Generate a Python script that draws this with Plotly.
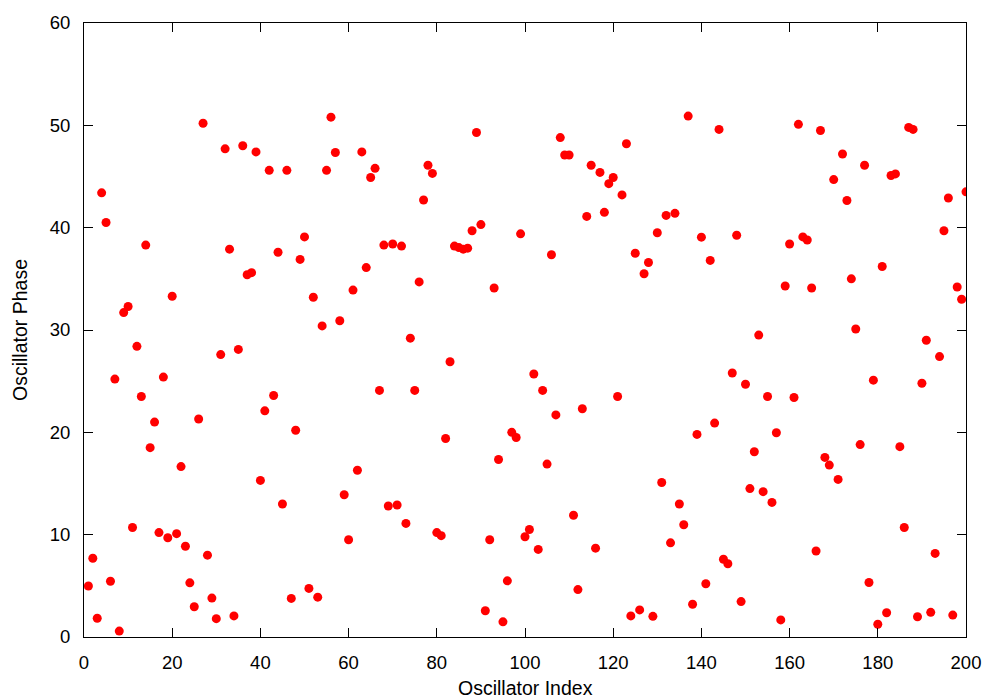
import plotly.graph_objects as go

# oscillator index 1..200 and the phase
index = list(range(1, 201))

phase = [
    4.98, 7.7, 1.83, 43.4, 40.5, 5.45, 25.2, 0.58, 31.7, 32.3,
    10.7, 28.4, 23.5, 38.3, 18.5, 21.0, 10.2, 25.4, 9.7, 33.3,
    10.1, 16.65, 8.87, 5.29, 2.96, 21.3, 50.2, 8.0, 3.8, 1.79,
    27.6, 47.7, 37.9, 2.06, 28.1, 48.0, 35.4, 35.6, 47.4, 15.3,
    22.1, 45.6, 23.6, 37.6, 13.0, 45.6, 3.77, 20.2, 36.9, 39.1,
    4.75, 33.2, 3.89, 30.4, 45.6, 50.8, 47.35, 30.9, 13.9, 9.5,
    33.9, 16.3, 47.4, 36.1, 44.9, 45.8, 24.1, 38.3, 12.8, 38.4,
    12.9, 38.2, 11.1, 29.2, 24.1, 34.7, 42.7, 46.1, 45.3, 10.2,
    9.9, 19.4, 26.9, 38.2, 38.05, 37.9, 38.0, 39.7, 49.3, 40.3,
    2.57, 9.5, 34.1, 17.35, 1.48, 5.49, 20.0, 19.5, 39.4, 9.8,
    10.5, 25.7, 8.56, 24.1, 16.9, 37.35, 21.7, 48.8, 47.1, 47.1,
    11.9, 4.63, 22.3, 41.1, 46.1, 8.68, 45.4, 41.5, 44.3, 44.9,
    23.5, 43.2, 48.2, 2.06, 37.5, 2.65, 35.5, 36.6, 2.02, 39.5,
    15.1, 41.2, 9.2, 41.4, 13.0, 10.97, 50.9, 3.2, 19.8, 39.07,
    5.2, 36.8, 20.9, 49.6, 7.6, 7.16, 25.8, 39.26, 3.46, 24.7,
    14.5, 18.1, 29.5, 14.2, 23.5, 13.15, 19.96, 1.67, 34.3, 38.4,
    23.4, 50.1, 39.1, 38.8, 34.1, 8.4, 49.5, 17.55, 16.8, 44.7,
    15.4, 47.2, 42.65, 35.0, 30.1, 18.8, 46.1, 5.33, 25.1, 1.25,
    36.2, 2.37, 45.1, 45.25, 18.6, 10.7, 49.8, 49.6, 1.98, 24.8,
    29.0, 2.41, 8.17, 27.4, 39.7, 42.9, 2.14, 34.2, 33.0, 43.5,
]

x_ticks = list(range(0, 201, 20))
y_ticks = list(range(0, 61, 10))

fig = go.Figure()
fig.add_trace(go.Scatter(
    x=index, y=phase, mode="markers",
    marker=dict(color="#ff0000", size=9, line=dict(width=0)),
    showlegend=False,
))

axis_style = dict(
    showline=True, linecolor="black", linewidth=1, mirror="ticks",
    ticks="inside", ticklen=9, tickwidth=1, tickcolor="black",
    showgrid=False, zeroline=False, automargin=False,
    tickfont=dict(size=18.5, color="black"),
    ticklabelstandoff=9,
)

fig.update_xaxes(range=[0, 200], tickvals=x_ticks, **axis_style)
fig.update_yaxes(range=[0, 60], tickvals=y_ticks, **axis_style)

# axis titles as annotations so they sit where gnuplot put them
title_font = dict(size=19.5, color="black")
fig.add_annotation(
    text="Oscillator Index",
    xref="paper", yref="paper", x=0.5, y=-0.083,
    xanchor="center", yanchor="middle", showarrow=False, font=title_font,
)
fig.add_annotation(
    text="Oscillator Phase", textangle=-90,
    xref="paper", yref="paper", x=-0.0726, y=0.5,
    xanchor="center", yanchor="middle", showarrow=False, font=title_font,
)

# the page body adds 8px around the figure, so the margins are shifted by that
fig.update_layout(
    width=1000, height=700,
    margin=dict(l=76, r=42, t=15, b=71),
    plot_bgcolor="white", paper_bgcolor="white",
    font=dict(family="Liberation Sans, Arial, sans-serif", size=18.5, color="black"),
)

fig.write_html("out.html")
